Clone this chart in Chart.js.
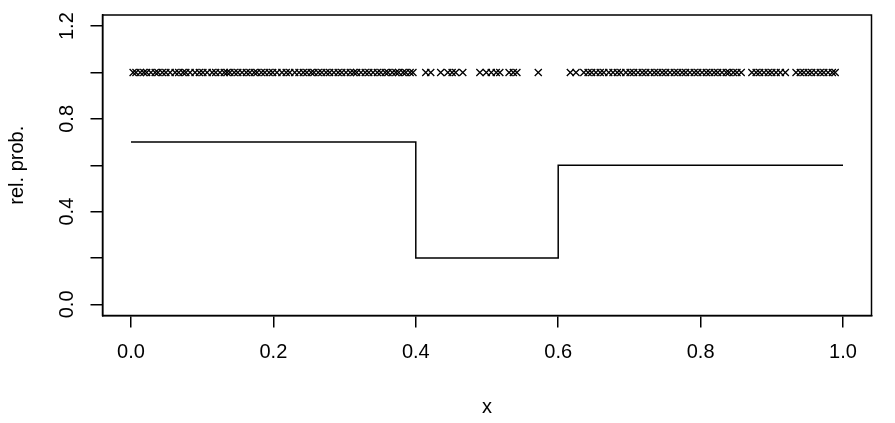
<!DOCTYPE html>
<html>
<head>
<meta charset="utf-8">
<script src="https://cdn.jsdelivr.net/npm/chart.js@4/dist/chart.umd.min.js"></script>
<style>
  html, body { margin: 0; padding: 0; background: #fff; }
  #wrap { width: 895px; height: 423px; }
</style>
</head>
<body>
<div id="wrap"><canvas id="myChart"></canvas></div>
<script>
// step function: level holds from each break to the next
const stepBreaks = [0, 0.4, 0.6, 1.0]
const stepLevels = [0.7, 0.2, 0.6, 0.6]

// sample positions drawn as crosses at rel. prob. = 1
const sampleX = [
  0.003, 0.007, 0.013, 0.018, 0.022, 0.028, 0.034, 0.038, 0.044, 0.049,
  0.055, 0.062, 0.067, 0.073, 0.077, 0.083, 0.090, 0.096, 0.101, 0.107,
  0.114, 0.119, 0.125, 0.131, 0.135, 0.139, 0.145, 0.150, 0.156, 0.162,
  0.167, 0.173, 0.177, 0.183, 0.188, 0.194, 0.199, 0.205, 0.212, 0.218,
  0.223, 0.230, 0.236, 0.242, 0.247, 0.253, 0.257, 0.263, 0.268, 0.274,
  0.279, 0.285, 0.291, 0.296, 0.302, 0.308, 0.313, 0.317, 0.323, 0.329,
  0.334, 0.340, 0.346, 0.351, 0.357, 0.361, 0.367, 0.372, 0.376, 0.382,
  0.386, 0.392, 0.396,
  0.414, 0.421, 0.435, 0.445, 0.451, 0.456, 0.466, 0.490, 0.499, 0.506,
  0.513, 0.518, 0.531, 0.537, 0.542, 0.572,
  0.617, 0.625, 0.636, 0.642, 0.647, 0.653, 0.659, 0.664, 0.671, 0.677,
  0.683, 0.688, 0.695, 0.701, 0.706, 0.712, 0.718, 0.723, 0.729, 0.735,
  0.740, 0.746, 0.751, 0.757, 0.763, 0.768, 0.774, 0.779, 0.785, 0.791,
  0.796, 0.802, 0.808, 0.813, 0.819, 0.824, 0.830, 0.836, 0.840, 0.846,
  0.851, 0.857, 0.872, 0.878, 0.883, 0.889, 0.895, 0.900, 0.906, 0.912,
  0.919, 0.934, 0.940, 0.945, 0.951, 0.956, 0.962, 0.968, 0.973, 0.979,
  0.985, 0.989,
]
const sampleLevel = 1

const xTicks = [0, 0.2, 0.4, 0.6, 0.8, 1.0]
const yTicks = [0, 0.2, 0.4, 0.6, 0.8, 1.0, 1.2]
const yLabelled = [0, 0.4, 0.8, 1.2]

const font = { family: '"Liberation Sans", Arial, Helvetica, sans-serif', size: 20 }

// R-style full box around the plot region
const boxPlugin = {
  id: 'box',
  afterDraw(chart) {
    const { ctx, chartArea: a } = chart
    ctx.save()
    ctx.strokeStyle = '#000'
    ctx.lineWidth = 1.5
    ctx.strokeRect(a.left, a.top, a.right - a.left, a.bottom - a.top)
    ctx.restore()
  },
}

new Chart(document.getElementById('myChart'), {
  type: 'scatter',
  data: {
    datasets: [
      {
        label: 'samples',
        data: sampleX.map(x => ({ x, y: sampleLevel })),
        pointStyle: 'crossRot',
        pointRadius: 5,
        pointBorderWidth: 1.3,
        borderColor: '#000',
        backgroundColor: '#000',
        showLine: false,
      },
      {
        label: 'density',
        type: 'line',
        data: stepBreaks.map((x, i) => ({ x, y: stepLevels[i] })),
        stepped: 'before',
        borderColor: '#000',
        borderWidth: 1.5,
        pointRadius: 0,
        fill: false,
      },
    ],
  },
  options: {
    responsive: true,
    maintainAspectRatio: false,
    animation: false,
    layout: { padding: { left: 0, right: 23.5, top: 15, bottom: 0 } },
    plugins: {
      legend: { display: false },
      tooltip: { enabled: false },
    },
    scales: {
      x: {
        type: 'linear',
        min: -0.04,
        max: 1.04,
        afterBuildTicks: axis => {
          axis.ticks = xTicks.map(v => ({ value: v }))
        },
        afterFit: axis => {
          axis.height = 107.5
          axis.paddingLeft = 0
          axis.paddingRight = 0
        },
        grid: {
          drawOnChartArea: false,
          drawTicks: true,
          tickLength: 12,
          color: '#000',
          lineWidth: 1.5,
        },
        border: { display: true, color: '#000', width: 1.5 },
        ticks: {
          color: '#000',
          font,
          padding: 13,
          maxRotation: 0,
          callback: v => v.toFixed(1),
        },
        title: {
          display: true,
          text: 'x',
          color: '#000',
          font,
          padding: { top: 0, bottom: 4 },
        },
      },
      y: {
        type: 'linear',
        min: -0.048,
        max: 1.248,
        afterBuildTicks: axis => {
          axis.ticks = yTicks.map(v => ({ value: v }))
        },
        afterFit: axis => {
          axis.width = 102.5
          axis.paddingTop = 0
          axis.paddingBottom = 0
        },
        grid: {
          drawOnChartArea: false,
          drawTicks: true,
          tickLength: 12,
          color: '#000',
          lineWidth: 1.5,
        },
        border: { display: true, color: '#000', width: 1.5 },
        ticks: {
          color: '#000',
          font,
          padding: 9,
          minRotation: 90,
          maxRotation: 90,
          crossAlign: 'center',
          callback: v => (yLabelled.some(l => Math.abs(l - v) < 1e-9) ? v.toFixed(1) : ''),
        },
        title: {
          display: true,
          text: 'rel. prob.',
          color: '#000',
          font,
          padding: { top: 5, bottom: 0 },
        },
      },
    },
  },
  plugins: [boxPlugin],
})
</script>
</body>
</html>
